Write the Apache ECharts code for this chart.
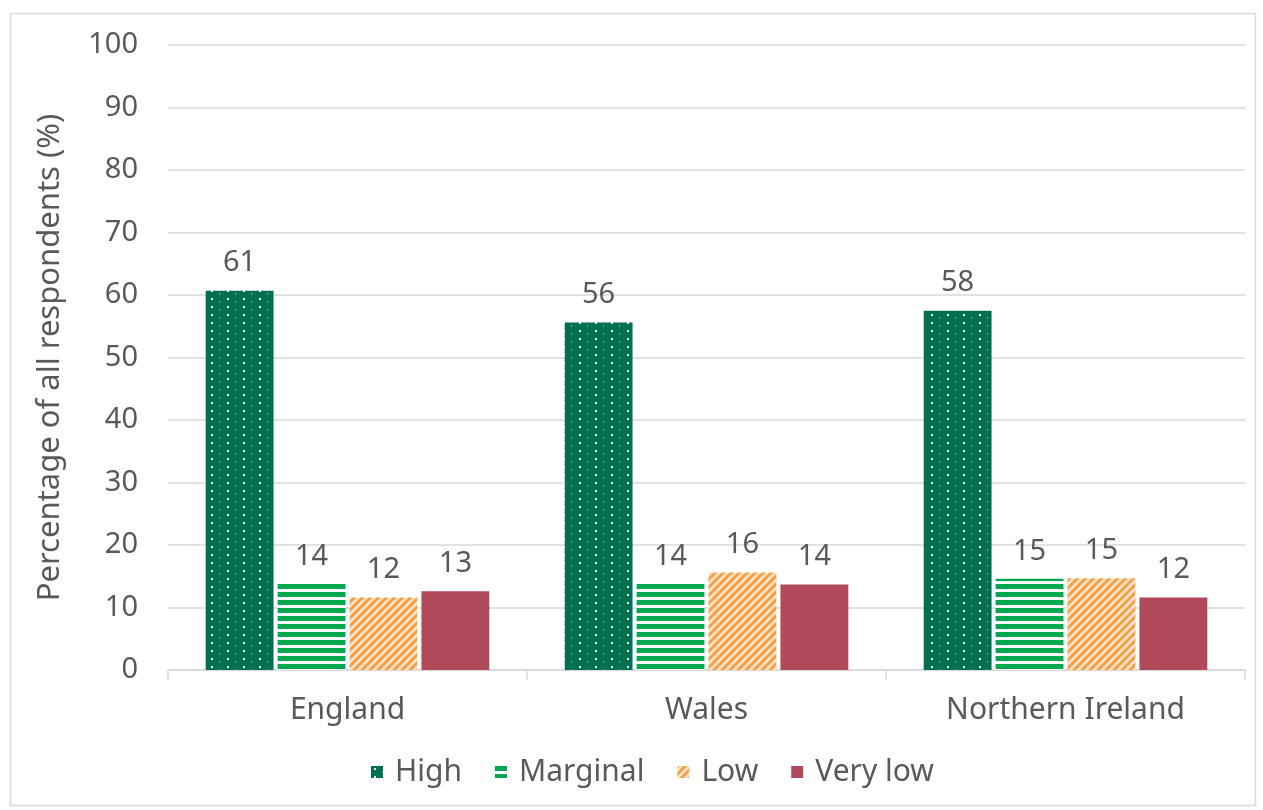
<!DOCTYPE html>
<html>
<head>
<meta charset="utf-8">
<script src="https://cdn.jsdelivr.net/npm/echarts@6/dist/echarts.min.js"></script>
<style>
  html, body { margin: 0; padding: 0; background: #fff; }
  #main { width: 1263px; height: 810px; }
</style>
</head>
<body>
<div id="main"></div>
<script>
const categories = ['England', 'Wales', 'Northern Ireland']
const seriesNames = ['High', 'Marginal', 'Low', 'Very low']
const high = [60.7, 55.6, 57.5]
const marginal = [13.8, 13.8, 14.6]
const low = [11.6, 15.6, 14.7]
const veryLow = [12.6, 13.7, 11.6]
const yTicks = [0, 10, 20, 30, 40, 50, 60, 70, 80, 90, 100]

const makeTile = (w, h, draw) => {
  const c = document.createElement('canvas')
  c.width = w
  c.height = h
  draw(c.getContext('2d'))
  return c
}

// dotted dark green
const dotTile = makeTile(16, 8, ctx => {
  ctx.fillStyle = '#007050'
  ctx.fillRect(0, 0, 16, 8)
  ctx.fillStyle = 'rgba(255,255,255,0.9)'
  ctx.fillRect(3, 2, 2, 2)
  ctx.fillStyle = 'rgba(255,255,255,0.4)'
  ctx.fillRect(11, 5, 1, 2)
})

// horizontal green stripes
const stripeTile = makeTile(8, 8, ctx => {
  ctx.fillStyle = '#ffffff'
  ctx.fillRect(0, 0, 8, 8)
  ctx.fillStyle = '#00a84f'
  ctx.fillRect(0, 0, 8, 5)
})

// diagonal orange stripes
const diagTile = makeTile(8, 8, ctx => {
  ctx.fillStyle = '#fde3c6'
  ctx.fillRect(0, 0, 8, 8)
  ctx.strokeStyle = '#f5a048'
  ctx.lineWidth = 3
  ctx.beginPath()
  ctx.moveTo(-2, 10); ctx.lineTo(10, -2)
  ctx.moveTo(-6, 6); ctx.lineTo(6, -6)
  ctx.moveTo(2, 14); ctx.lineTo(14, 2)
  ctx.stroke()
})

const fills = [
  { image: dotTile, repeat: 'repeat' },
  { image: stripeTile, repeat: 'repeat' },
  { image: diagTile, repeat: 'repeat' },
  '#b04a5a'
]
const font = '"Noto Sans", Roboto, sans-serif'
const textColor = '#595959'

const chart = echarts.init(document.getElementById('main'))

const series = [high, marginal, low, veryLow].map((values, i) => ({
  name: seriesNames[i],
  type: 'bar',
  data: values,
  barGap: '6%',
  barCategoryGap: '21%',
  itemStyle: { color: fills[i] },
  label: {
    show: true,
    position: 'top',
    distance: 13,
    color: textColor,
    fontSize: 29,
    fontFamily: font,
    formatter: p => Math.round(p.value)
  }
}))

chart.setOption({
  animation: false,
  graphic: [{
    type: 'rect',
    shape: { x: 10.5, y: 13.5, width: 1245, height: 792 },
    style: { fill: 'none', stroke: '#d9d9d9', lineWidth: 1.5 },
    silent: true
  }],
  grid: { left: 168, right: 18, top: 45, bottom: 140 },
  legend: {
    bottom: 18,
    left: 366,
    itemWidth: 12,
    itemHeight: 12,
    itemGap: 33,
    icon: 'rect',
    textStyle: { color: textColor, fontSize: 30, fontFamily: font, padding: [0, 0, 0, 7] },
    data: seriesNames
  },
  xAxis: {
    type: 'category',
    data: categories,
    axisLine: { lineStyle: { color: '#d9d9d9', width: 1.5 } },
    axisTick: { show: true, length: 10, lineStyle: { color: '#d9d9d9', width: 1.5 } },
    axisLabel: { color: textColor, fontSize: 30, fontFamily: font, margin: 25 }
  },
  yAxis: {
    type: 'value',
    min: yTicks[0],
    max: yTicks[yTicks.length - 1],
    interval: 10,
    name: 'Percentage of all respondents (%)',
    nameLocation: 'middle',
    nameGap: 102,
    nameTextStyle: { color: textColor, fontSize: 31, fontFamily: font },
    axisLine: { show: false },
    axisTick: { show: false },
    axisLabel: { color: textColor, fontSize: 29, fontFamily: font, margin: 30 },
    splitLine: { lineStyle: { color: '#d9d9d9', width: 1.5 } }
  },
  series: series
})
</script>
</body>
</html>
